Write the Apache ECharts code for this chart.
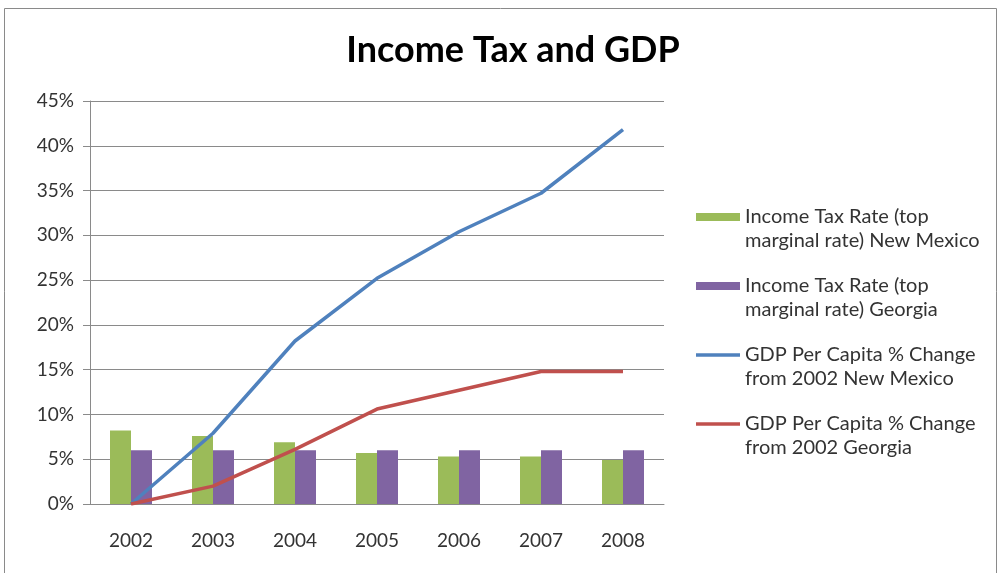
<!DOCTYPE html>
<html>
    <head>
        <title>Income Tax and GDP</title>
        <meta http-equiv="content-type" content="text/html; charset=utf-8">
        <style type="text/css">
            html,
            body {
                height: 100%;
                width: 100%;
                background: #fff;
                margin: 0;
            }
            #chart {
                width: 998px;
                height: 573px;
            }
        </style>
    </head>
    <body>
        <div id="chart"></div>
        <script src="https://cdn.jsdelivr.net/npm/echarts@6/dist/echarts.min.js"></script>
        <script>
            const years = ['2002', '2003', '2004', '2005', '2006', '2007', '2008'];
            const taxNM = [8.2, 7.6, 6.9, 5.7, 5.3, 5.3, 4.9];
            const taxGA = [6, 6, 6, 6, 6, 6, 6];
            const gdpNM = [0, 7.9, 18.2, 25.2, 30.4, 34.7, 41.8];
            const gdpGA = [0, 2.0, 6.1, 10.6, 12.7, 14.8, 14.8];
            const names = [
                'Income Tax Rate (top\nmarginal rate) New Mexico',
                'Income Tax Rate (top\nmarginal rate) Georgia',
                'GDP Per Capita % Change\nfrom 2002 New Mexico',
                'GDP Per Capita % Change\nfrom 2002 Georgia'
            ];

            let myChart = echarts.init(document.getElementById('chart'));
            let font = 'Lato, "Open Sans", sans-serif';
            let lineIcon = 'path://M0,0H44V3.5H0Z';

            myChart.setOption({
                animation: false,
                title: {
                    text: 'Income Tax and GDP',
                    left: 508,
                    textAlign: 'center',
                    top: 27,
                    textStyle: {fontFamily: font, fontSize: 36, fontWeight: 'bold', color: '#000'}
                },
                graphic: [{
                    type: 'rect',
                    shape: {x: 4.5, y: 8.5, width: 992, height: 600},
                    style: {fill: 'none', stroke: '#8a8a8a', lineWidth: 1},
                    silent: true
                }],
                legend: {
                    orient: 'vertical',
                    left: 696,
                    top: 181,
                    padding: 0,
                    itemWidth: 44,
                    itemHeight: 8,
                    itemGap: -3,
                    symbolKeepAspect: true,
                    textStyle: {fontFamily: font, fontSize: 20, color: '#333', lineHeight: 24},
                    // leading blank line keeps the icon level with the first text line
                    formatter: function (name) {
                        return '\n' + name;
                    },
                    data: [
                        {name: names[0], icon: 'rect'},
                        {name: names[1], icon: 'rect'},
                        {name: names[2], icon: lineIcon},
                        {name: names[3], icon: lineIcon}
                    ]
                },
                grid: {left: 90, right: 334, top: 101, bottom: 69},
                xAxis: {
                    type: 'category',
                    data: years,
                    axisLine: {lineStyle: {color: '#8a8a8a'}},
                    axisTick: {length: 7, lineStyle: {color: '#8a8a8a'}},
                    axisLabel: {fontFamily: font, fontSize: 19, color: '#333', margin: 27}
                },
                yAxis: {
                    type: 'value',
                    min: 0,
                    max: 45,
                    interval: 5,
                    axisLine: {show: true, lineStyle: {color: '#8a8a8a'}},
                    axisTick: {show: true, length: 7, lineStyle: {color: '#8a8a8a'}},
                    splitLine: {lineStyle: {color: '#8a8a8a'}},
                    axisLabel: {fontFamily: font, fontSize: 19, color: '#333', margin: 16, formatter: '{value}%'}
                },
                series: [
                    {name: names[0], type: 'bar', data: taxNM, barWidth: 21, barGap: '0%', itemStyle: {color: '#9bbb59'}},
                    {name: names[1], type: 'bar', data: taxGA, barWidth: 21, barGap: '0%', itemStyle: {color: '#8064a2'}},
                    {name: names[2], type: 'line', data: gdpNM, symbol: 'none', lineStyle: {width: 3.5, color: '#4f81bd'}, itemStyle: {color: '#4f81bd'}},
                    {name: names[3], type: 'line', data: gdpGA, symbol: 'none', lineStyle: {width: 3.5, color: '#c0504d'}, itemStyle: {color: '#c0504d'}}
                ]
            });
        </script>
    </body>
</html>
